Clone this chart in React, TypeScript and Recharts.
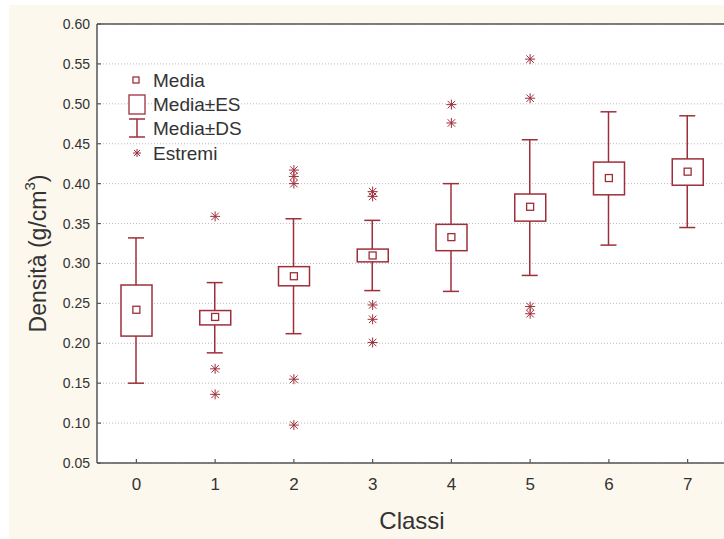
import React from "react"
import { ComposedChart, Bar, Line, XAxis, YAxis, CartesianGrid, ReferenceLine } from "recharts"

const CLASSES = ["0", "1", "2", "3", "4", "5", "6", "7"]
const MEAN = [0.242, 0.233, 0.284, 0.31, 0.333, 0.371, 0.407, 0.415]
const SE_LOW = [0.209, 0.223, 0.272, 0.302, 0.316, 0.353, 0.386, 0.398]
const SE_HIGH = [0.273, 0.241, 0.296, 0.318, 0.349, 0.387, 0.427, 0.431]
const SD_LOW = [0.15, 0.188, 0.212, 0.266, 0.265, 0.285, 0.323, 0.345]
const SD_HIGH = [0.332, 0.276, 0.356, 0.354, 0.4, 0.455, 0.49, 0.485]
const EXTREMES: number[][] = [
  [],
  [0.359, 0.168, 0.136],
  [0.417, 0.409, 0.4, 0.155, 0.0975],
  [0.39, 0.384, 0.248, 0.23, 0.201],
  [0.499, 0.476],
  [0.556, 0.507, 0.246, 0.237],
  [],
  [],
]
const Y_TICKS = [0.05, 0.1, 0.15, 0.2, 0.25, 0.3, 0.35, 0.4, 0.45, 0.5, 0.55, 0.6]

const RED = "#9E2F3A"
const AXIS = "#555"
const TEXT = "#333"
const FONT = "'Liberation Sans', Arial, sans-serif"

const N_EXT = Math.max(...EXTREMES.map((e) => e.length))
const EXT_KEYS = Array.from({ length: N_EXT }, (_, k) => `ext${k}`)

const data = CLASSES.map((cls, i) => {
  const row: Record<string, unknown> = {
    cls,
    box: [SE_LOW[i], SE_HIGH[i]],
    whisk: [SD_LOW[i], SD_HIGH[i]],
    mean: MEAN[i],
  }
  EXT_KEYS.forEach((key, k) => {
    row[key] = EXTREMES[i][k] ?? null
  })
  return row
})

function WhiskerShape(props: any) {
  const { x, y, width, height } = props
  const top = Math.min(y, y + height)
  const bottom = Math.max(y, y + height)
  const cx = x + width / 2
  return (
    <g stroke={RED} strokeWidth={1.5}>
      <line x1={cx} x2={cx} y1={top} y2={bottom} />
      <line x1={x} x2={x + width} y1={top} y2={top} />
      <line x1={x} x2={x + width} y1={bottom} y2={bottom} />
    </g>
  )
}

function BoxShape(props: any) {
  const { x, y, width, height } = props
  return (
    <rect
      x={x}
      y={Math.min(y, y + height)}
      width={width}
      height={Math.abs(height)}
      fill="#fff"
      stroke={RED}
      strokeWidth={1.5}
    />
  )
}

function MeanDot(props: any) {
  const { cx, cy, index } = props
  if (cx == null || cy == null) return <g key={`m-${index}`} />
  return <rect key={`m-${index}`} x={cx - 3.5} y={cy - 3.5} width={7} height={7} fill="#fff" stroke={RED} strokeWidth={1.3} />
}

function Asterisk({ cx, cy, r = 5 }: { cx: number; cy: number; r?: number }) {
  const d = r * 0.75
  return (
    <g stroke={RED} strokeWidth={1}>
      <line x1={cx} x2={cx} y1={cy - r} y2={cy + r} />
      <line x1={cx - r} x2={cx + r} y1={cy} y2={cy} />
      <line x1={cx - d} x2={cx + d} y1={cy - d} y2={cy + d} />
      <line x1={cx - d} x2={cx + d} y1={cy + d} y2={cy - d} />
    </g>
  )
}

function ExtremeDot(props: any) {
  const { cx, cy, index, value, dataKey } = props
  if (value == null || cx == null || cy == null) return <g key={`${dataKey}-${index}`} />
  return (
    <g key={`${dataKey}-${index}`}>
      <Asterisk cx={cx} cy={cy} />
    </g>
  )
}

function YTick(props: any) {
  const { x, y, payload } = props
  return (
    <g>
      <line x1={x} x2={x + 4} y1={y} y2={y} stroke={AXIS} strokeWidth={1.2} />
      <text x={x - 7} y={y + 5} textAnchor="end" fontSize={14} fill={TEXT} fontFamily={FONT}>
        {Number(payload.value).toFixed(2)}
      </text>
    </g>
  )
}

function XTick(props: any) {
  const { x, y, payload } = props
  return (
    <g>
      <line x1={x} x2={x} y1={y} y2={y - 4} stroke={AXIS} strokeWidth={1.2} />
      <text x={x} y={y + 27} textAnchor="middle" fontSize={17} fill={TEXT} fontFamily={FONT}>
        {payload.value}
      </text>
    </g>
  )
}

function LegendBox() {
  return (
    <svg width={320} height={170} style={{ position: "absolute", left: 0, top: 0, pointerEvents: "none" }}>
      <g fontFamily={FONT} fontSize={19} fill={TEXT}>
        <rect x={124} y={72} width={6} height={6} fill="#fff" stroke={RED} strokeWidth={1.3} />
        <text x={144} y={82}>Media</text>
        <rect x={120} y={90} width={16} height={19} fill="#fff" stroke={RED} strokeWidth={1.3} />
        <text x={144} y={106}>Media±ES</text>
        <g stroke={RED} strokeWidth={1.5}>
          <line x1={128} x2={128} y1={114} y2={132} />
          <line x1={120} x2={136} y1={114} y2={114} />
          <line x1={120} x2={136} y1={132} y2={132} />
        </g>
        <text x={144} y={130}>Media±DS</text>
        <Asterisk cx={128} cy={148} r={4} />
        <text x={144} y={155}>Estremi</text>
      </g>
    </svg>
  )
}

export default function App() {
  return (
    <div
      style={{
        position: "absolute",
        left: 9,
        top: 5,
        width: 715,
        height: 534,
        overflow: "hidden",
        background: "#FCF8EE",
      }}
    >
      <ComposedChart width={730} height={534} data={data} margin={{ top: 19, right: 12, left: 0, bottom: 0 }}>
        <CartesianGrid xAxisId="w" vertical={false} fill="#fff" stroke="#bbb" strokeDasharray="1 2" />
        <XAxis xAxisId="b" dataKey="cls" orientation="top" height={0} hide />
        <XAxis
          xAxisId="w"
          dataKey="cls"
          height={76}
          tickSize={0}
          tickMargin={0}
          tick={<XTick />}
          axisLine={{ stroke: AXIS, strokeWidth: 1.5 }}
          tickLine={false}
          label={{
            value: "Classi",
            position: "insideBottom",
            offset: 10,
            fontSize: 24,
            fill: TEXT,
            fontFamily: FONT,
          }}
        />
        <YAxis
          type="number"
          width={88}
          domain={[0.05, 0.6]}
          ticks={Y_TICKS}
          allowDataOverflow
          tickSize={0}
          tickMargin={0}
          tick={<YTick />}
          tickLine={false}
          axisLine={{ stroke: AXIS, strokeWidth: 1.5 }}
          label={{
            content: (p: any) => {
              const vb = p.viewBox
              const cx = vb.x + 29
              const cy = vb.y + vb.height / 2 + 10
              return (
                <text
                  x={cx}
                  y={cy}
                  transform={`rotate(-90 ${cx} ${cy})`}
                  textAnchor="middle"
                  dominantBaseline="central"
                  fontSize={23}
                  fill={TEXT}
                  fontFamily={FONT}
                >
                  Densità (g/cm
                  <tspan fontSize={15} dy={-9}>3</tspan>
                  <tspan dy={9}>)</tspan>
                </text>
              )
            },
          }}
        />
        <ReferenceLine xAxisId="w" y={0.6} stroke={AXIS} strokeWidth={1.5} />
        <Bar xAxisId="w" dataKey="whisk" barSize={16} shape={<WhiskerShape />} isAnimationActive={false} />
        <Bar xAxisId="b" dataKey="box" barSize={31} shape={<BoxShape />} isAnimationActive={false} />
        <Line
          xAxisId="w"
          dataKey="mean"
          stroke="none"
          dot={MeanDot}
          activeDot={false}
          isAnimationActive={false}
        />
        {EXT_KEYS.map((key) => (
          <Line
            key={key}
            xAxisId="w"
            dataKey={key}
            stroke="none"
            dot={ExtremeDot}
            activeDot={false}
            isAnimationActive={false}
          />
        ))}
      </ComposedChart>
      <LegendBox />
    </div>
  )
}
